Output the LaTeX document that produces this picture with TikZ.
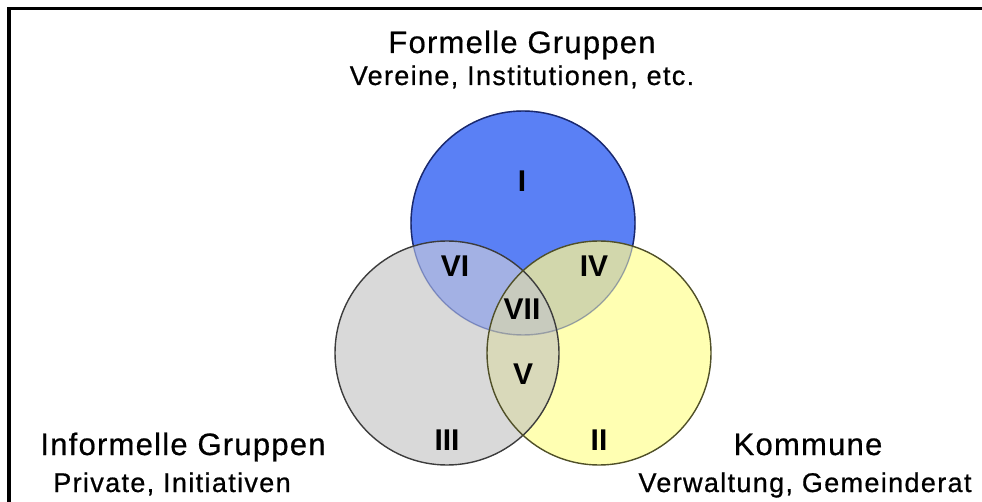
\documentclass[tikz,border=0pt]{standalone}
\usepackage{fontspec}
\setmainfont{Liberation Sans}
\definecolor{cI}{RGB}{90,128,245}
\definecolor{cII}{RGB}{255,255,178}
\definecolor{cIII}{RGB}{217,217,217}
\definecolor{cIV}{RGB}{210,215,172}
\definecolor{cV}{RGB}{217,217,186}
\definecolor{cVI}{RGB}{163,177,228}
\definecolor{cVII}{RGB}{200,203,190}
\definecolor{lnA}{RGB}{25,40,110}
\definecolor{lnB}{RGB}{60,60,60}
\definecolor{lnC}{RGB}{80,80,40}
\tikzset{
  title/.style={anchor=base,inner sep=0pt,font=\fontsize{31}{36}\selectfont\addfontfeatures{LetterSpace=4,FakeBold=0.6}},
  subtitle/.style={anchor=base,inner sep=0pt,font=\fontsize{27}{32}\selectfont\addfontfeatures{LetterSpace=5,FakeBold=0.7}},
  numeral/.style={inner sep=0pt,font=\fontsize{30}{34}\selectfont\bfseries},
  ring/.style={line width=1.4pt}
}
\begin{document}
\begin{tikzpicture}[x=1pt,y=-1pt]
\useasboundingbox (0,0) rectangle (982,502);
\def\cA{(523,223) circle (112)}
\def\cB{(447,353) circle (112)}
\def\cC{(599,353) circle (112)}
% fills
\fill[cIII] \cB;
\fill[cII] \cC;
\fill[cI] \cA;
\begin{scope}\clip \cA; \fill[cVI] \cB; \fill[cIV] \cC; \end{scope}
\begin{scope}\clip \cB; \fill[cV] \cC; \clip \cA; \fill[cVII] \cC; \end{scope}
% outlines
\draw[ring,lnA,opacity=0.3] \cA;
\begin{scope}[even odd rule]
  \clip (0,0) rectangle (982,502) \cB;
  \clip (0,0) rectangle (982,502) \cC;
  \draw[ring,lnA] \cA;
\end{scope}
\draw[ring,lnB] \cB;
\draw[ring,lnC] \cC;
% frame
\draw[line width=3.5pt] (9.2,502) -- (9.2,8.7) -- (982,8.7);
% labels
\node[title] (tF) at (522,53) {Formelle Gruppen};
\node[subtitle] (sF) at (522,85) {Vereine, Institutionen, etc.};
\node[title] (tI) at (183,455) {Informelle Gruppen};
\node[subtitle] (sI) at (172,492) {Private, Initiativen};
\node[title] (tK) at (808,455) {Kommune};
\node[subtitle] (sK) at (805,492) {Verwaltung, Gemeinderat};
% numerals
\node[numeral] (nI) at (522,181) {I};
\node[numeral] (nVI) at (455,266) {VI};
\node[numeral] (nIV) at (594,266) {IV};
\node[numeral] (nVII) at (522,309) {VII};
\node[numeral] (nV) at (523,374) {V};
\node[numeral] (nIII) at (447,440) {III};
\node[numeral] (nII) at (599,440) {II};
\end{tikzpicture}
\end{document}
